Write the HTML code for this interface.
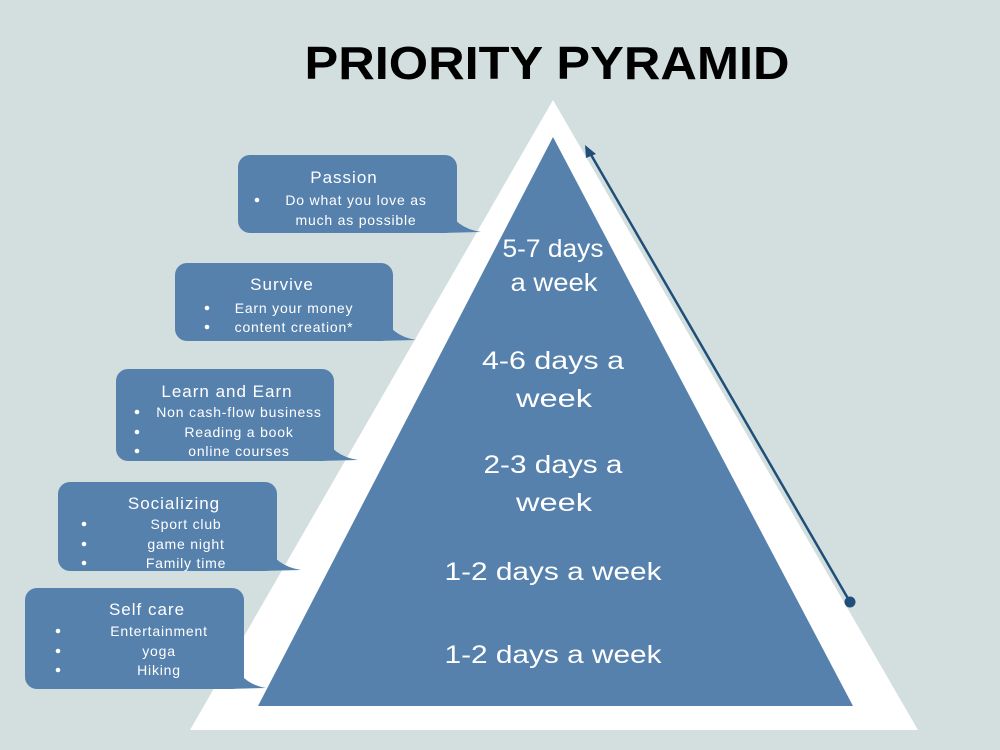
<!DOCTYPE html>
<html><head><meta charset="utf-8"><style>
html,body{margin:0;padding:0;background:#d3dfdf;}
svg{display:block;}
text{font-family:"Liberation Sans",sans-serif;fill:#fff;}
</style></head><body>
<svg width="1000" height="750" viewBox="0 0 1000 750">
<rect width="1000" height="750" fill="#d3dfdf"/>
<text x="547" y="79" text-anchor="middle" font-size="46" font-weight="bold" style="fill:#000" textLength="485" lengthAdjust="spacingAndGlyphs">PRIORITY PYRAMID</text>
<polygon points="553,100 918,730 190,730" fill="#fff"/>
<polygon points="553,137 853,706 258,706" fill="#5681ad"/>
<line x1="850" y1="602" x2="590" y2="153" stroke="#1f4e79" stroke-width="2.5"/>
<polygon points="585,145 596,154 586,158" fill="#1f4e79"/>
<circle cx="850" cy="602" r="5.5" fill="#1f4e79"/>
<g font-size="25" text-anchor="middle" lengthAdjust="spacingAndGlyphs">
<text x="553" y="257" textLength="101" lengthAdjust="spacingAndGlyphs">5-7 days</text>
<text x="554" y="291" textLength="87" lengthAdjust="spacingAndGlyphs">a week</text>
<text x="553" y="369" textLength="142" lengthAdjust="spacingAndGlyphs">4-6 days a</text>
<text x="554" y="407" textLength="76" lengthAdjust="spacingAndGlyphs">week</text>
<text x="553" y="473" textLength="139" lengthAdjust="spacingAndGlyphs">2-3 days a</text>
<text x="554" y="511" textLength="76" lengthAdjust="spacingAndGlyphs">week</text>
<text x="553" y="580" textLength="217" lengthAdjust="spacingAndGlyphs">1-2 days a week</text>
<text x="553" y="663" textLength="217" lengthAdjust="spacingAndGlyphs">1-2 days a week</text>
</g>
<g fill="#5681ad">
<rect x="238" y="155" width="219" height="78" rx="12"/>
<path d="M445,205 Q455,228 481,232 L440,233 Z"/>
<rect x="175" y="263" width="218" height="78" rx="12"/>
<path d="M381,313 Q391,336 416,340 L376,341 Z"/>
<rect x="116" y="369" width="218" height="92" rx="12"/>
<path d="M322,433 Q332,456 358,460 L317,461 Z"/>
<rect x="58" y="482" width="219" height="89" rx="12"/>
<path d="M265,543 Q275,566 301,570 L260,571 Z"/>
<rect x="25" y="588" width="219" height="101" rx="12"/>
<path d="M232,661 Q242,684 266,688 L227,689 Z"/>
</g>
<g font-size="17" text-anchor="middle" letter-spacing="1">
<text x="344" y="183">Passion</text>
<text x="282" y="290">Survive</text>
<text x="227" y="397">Learn and Earn</text>
<text x="174" y="509">Socializing</text>
<text x="147" y="615">Self care</text>
</g>
<g font-size="14" text-anchor="middle" letter-spacing="0.8">
<text x="356" y="205">Do what you love as</text>
<text x="356" y="225">much as possible</text>
<text x="294" y="313">Earn your money</text>
<text x="294" y="332">content creation*</text>
<text x="239" y="417">Non cash-flow business</text>
<text x="239" y="437">Reading a book</text>
<text x="239" y="456">online courses</text>
<text x="186" y="529">Sport club</text>
<text x="186" y="549">game night</text>
<text x="186" y="568">Family time</text>
<text x="159" y="636">Entertainment</text>
<text x="159" y="656">yoga</text>
<text x="159" y="675">Hiking</text>
</g>
<g fill="#fff">
<circle cx="257" cy="200" r="2.3"/>
<circle cx="207" cy="308" r="2.3"/>
<circle cx="207" cy="327" r="2.3"/>
<circle cx="137" cy="412" r="2.3"/>
<circle cx="137" cy="432" r="2.3"/>
<circle cx="137" cy="451" r="2.3"/>
<circle cx="84" cy="524" r="2.3"/>
<circle cx="84" cy="544" r="2.3"/>
<circle cx="84" cy="563" r="2.3"/>
<circle cx="58" cy="631" r="2.3"/>
<circle cx="58" cy="651" r="2.3"/>
<circle cx="58" cy="670" r="2.3"/>
</g>
</svg>
</body></html>
